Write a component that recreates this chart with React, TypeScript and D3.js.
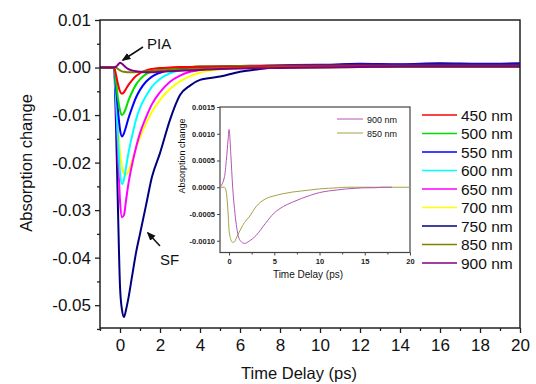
import React, { useEffect, useRef } from "react";
import * as d3 from "d3";

// main panel: time grid (ps) shared by all wavelengths
const mainTime = [-1, -0.6, -0.4, -0.3, -0.2, -0.1, 0, 0.1, 0.2, 0.3, 0.4, 0.6, 0.8, 1.0, 1.3, 1.6, 2.0, 2.5, 3.0, 3.5, 4.0, 5.0, 6.0, 7.0, 8.0, 10, 12, 14, 16, 18, 20];

const nm450 = [0, 0, 0, 0, -0.0015, -0.0035, -0.005, -0.0055, -0.0052, -0.0045, -0.0038, -0.0027, -0.0018, -0.0012, -0.0006, -0.0003, -0.0001, 0, 0.0001, 0.0001, 0.0002, 0.0002, 0.0002, 0.0003, 0.0003, 0.0003, 0.0003, 0.0003, 0.0003, 0.0003, 0.0003];
const nm500 = [0, 0, 0, 0, -0.003, -0.0065, -0.009, -0.01, -0.0095, -0.0085, -0.0072, -0.0052, -0.0036, -0.0025, -0.0014, -0.0008, -0.0004, -0.0001, 0, 0.0001, 0.0002, 0.0002, 0.0003, 0.0003, 0.0004, 0.0004, 0.0004, 0.0004, 0.0004, 0.0004, 0.0004];
const nm550 = [0, 0, 0, 0, -0.004, -0.009, -0.013, -0.0145, -0.0138, -0.0125, -0.011, -0.0085, -0.0063, -0.0047, -0.003, -0.0019, -0.0011, -0.0005, -0.0002, 0, 0.0001, 0.0002, 0.0003, 0.0004, 0.0005, 0.0006, 0.0006, 0.0006, 0.0006, 0.0006, 0.0006];
const nm600 = [0, 0, 0, 0, -0.006, -0.015, -0.022, -0.0245, -0.0235, -0.021, -0.0185, -0.0145, -0.011, -0.0085, -0.006, -0.004, -0.0024, -0.0012, -0.0006, -0.0003, -0.0001, 0.0001, 0.0002, 0.0003, 0.0004, 0.0005, 0.0005, 0.0005, 0.0005, 0.0005, 0.0005];
const nm650 = [0, 0, 0, 0, -0.007, -0.018, -0.028, -0.0315, -0.031, -0.028, -0.025, -0.0205, -0.0168, -0.0138, -0.0105, -0.0077, -0.0052, -0.003, -0.0017, -0.0009, -0.0005, -0.0002, 0, 0.0002, 0.0003, 0.0005, 0.0006, 0.0006, 0.0006, 0.0006, 0.0006];
const nm700 = [0, 0, 0, 0, -0.005, -0.012, -0.018, -0.021, -0.0223, -0.0225, -0.022, -0.0197, -0.0170, -0.0147, -0.0118, -0.0093, -0.0068, -0.0045, -0.0029, -0.0018, -0.0011, -0.0004, -0.0001, 0.0001, 0.0002, 0.0003, 0.0004, 0.0004, 0.0004, 0.0004, 0.0004];
const nm750 = [0, 0, 0, 0, -0.012, -0.03, -0.046, -0.051, -0.0525, -0.051, -0.049, -0.044, -0.039, -0.035, -0.029, -0.023, -0.018, -0.011, -0.0058, -0.0038, -0.0026, -0.0019, -0.0009, -0.0003, 0.0001, 0.0004, 0.0008, 0.0007, 0.0009, 0.0008, 0.0009];
const nm850 = [0, 0, 0, 0, 0, -0.0003, -0.0006, -0.0008, -0.0009, -0.00095, -0.001, -0.001, -0.00095, -0.0009, -0.0008, -0.0007, -0.0006, -0.0005, -0.0004, -0.00035, -0.0003, -0.0002, -0.0001, -0.00005, 0, 0, 0.0001, 0.0001, 0.0001, 0.0001, 0.0001];
const nm900 = [0, 0, 0, 0, 0.0002, 0.0006, 0.001, 0.0008, 0.0004, 0, -0.0003, -0.0006, -0.0008, -0.0009, -0.001, -0.001, -0.0009, -0.0008, -0.0007, -0.0006, -0.0005, -0.0003, -0.0002, -0.00015, -0.0001, 0, 0.0001, 0.0002, 0.0002, 0.0002, 0.0002];

const labels = ["450 nm", "500 nm", "550 nm", "600 nm", "650 nm", "700 nm", "750 nm", "850 nm", "900 nm"];
const colors = ["#ff0000", "#00e000", "#0000ff", "#00ffff", "#ff00ff", "#ffff00", "#000080", "#808000", "#800080"];
const mainSeries = [nm450, nm500, nm550, nm600, nm650, nm700, nm750, nm850, nm900];
// draw order: longer-lived curves behind
const drawOrder = [6, 5, 4, 3, 2, 1, 0, 7, 8];

const mainXTicks = [0, 2, 4, 6, 8, 10, 12, 14, 16, 18, 20];
const mainYTicks = [0.01, 0, -0.01, -0.02, -0.03, -0.04, -0.05];

// inset: 900 nm and 850 nm
const insetTime = [-1, -0.5, -0.3, -0.1, 0, 0.2, 0.4, 0.6, 0.8, 1.0, 1.3, 1.7, 2.2, 3, 4, 5, 6, 7, 8, 9, 10, 11, 12, 13, 14, 15, 16, 17, 18, 19, 20];
const inset900 = [0, 0.0002, 0.0005, 0.0009, 0.00108, 0.0006, 0, -0.0004, -0.0007, -0.0009, -0.00101, -0.00105, -0.00101, -0.0009, -0.00068, -0.00048, -0.00036, -0.00028, -0.00021, -0.00015, -0.0001, -0.00007, -0.00005, -0.00003, -0.00002, -0.00001, -0.00001, 0, 0];
const inset850 = [0, 0, -0.0001, -0.0005, -0.0008, -0.00098, -0.00103, -0.00102, -0.00095, -0.00088, -0.00078, -0.00066, -0.00056, -0.00036, -0.00022, -0.00016, -0.00012, -0.00009, -0.00007, -0.00005, -0.00003, -0.00002, -0.00001, 0, 0, 0, 0, 0, 0, 0, 0];
const insetLabels = ["900 nm", "850 nm"];
const insetColors = ["#b455b4", "#a3a343"];
const insetXTicks = [0, 5, 10, 15, 20];
const insetYTicks = [0.0015, 0.001, 0.0005, 0, -0.0005, -0.001];

const FONT = "Arial, 'Liberation Sans', sans-serif";

const W = 536;
const H = 384;
const m = { left: 100, top: 20, right: 520, bottom: 328 };
const ins = { left: 220, top: 107, right: 410, bottom: 252.5 };

export default function App() {
  const ref = useRef<SVGSVGElement>(null);

  useEffect(() => {
    const svg = d3.select(ref.current);
    svg.selectAll("*").remove();

    const x = d3.scaleLinear().domain([-1, 20]).range([m.left, m.right]);
    const y = d3.scaleLinear().domain([-0.0548, 0.01]).range([m.bottom, m.top]);

    const clip = svg.append("defs").append("clipPath").attr("id", "mainclip");
    clip.append("rect").attr("x", m.left).attr("y", m.top).attr("width", m.right - m.left).attr("height", m.bottom - m.top);

    const line = d3.line<[number, number]>()
      .x(d => x(d[0]))
      .y(d => y(d[1]))
      .curve(d3.curveMonotoneX);

    const plot = svg.append("g").attr("clip-path", "url(#mainclip)");
    drawOrder.forEach(i => {
      plot.append("path")
        .datum(mainTime.map((t, k) => [t, mainSeries[i][k]] as [number, number]))
        .attr("d", line)
        .attr("fill", "none")
        .attr("stroke", colors[i])
        .attr("stroke-width", 2)
        .attr("stroke-linejoin", "round");
    });

    // frame
    svg.append("rect")
      .attr("x", m.left).attr("y", m.top)
      .attr("width", m.right - m.left).attr("height", m.bottom - m.top)
      .attr("fill", "none").attr("stroke", "#222").attr("stroke-width", 1.5);

    const styleAxis = (g: any, size: number) => {
      g.select(".domain").remove();
      g.selectAll("line").attr("stroke", "#222").attr("stroke-width", 1.3);
      g.selectAll("text").attr("font-family", FONT).attr("font-size", size).attr("fill", "#111");
    };

    const xMinor = d3.range(-1, 20, 2);
    svg.append("g").attr("transform", `translate(0,${m.bottom})`)
      .call(d3.axisBottom(x).tickValues(xMinor).tickSize(3).tickFormat(() => ""))
      .call((g: any) => styleAxis(g, 0));
    svg.append("g").attr("transform", `translate(0,${m.bottom})`)
      .call(d3.axisBottom(x).tickValues(mainXTicks).tickSize(5).tickPadding(6).tickFormat(d3.format("d")))
      .call((g: any) => styleAxis(g, 17));

    const yMinor = d3.range(-0.055, 0.01, 0.01).map(v => +v.toFixed(3));
    svg.append("g").attr("transform", `translate(${m.left},0)`)
      .call(d3.axisLeft(y).tickValues(yMinor).tickSize(3).tickFormat(() => ""))
      .call((g: any) => styleAxis(g, 0));
    svg.append("g").attr("transform", `translate(${m.left},0)`)
      .call(d3.axisLeft(y).tickValues(mainYTicks).tickSize(5).tickPadding(4).tickFormat((v: any) => (+v).toFixed(2)))
      .call((g: any) => styleAxis(g, 17));

    svg.append("text")
      .attr("transform", `translate(32,163) rotate(-90)`)
      .attr("text-anchor", "middle")
      .attr("font-family", FONT).attr("font-size", 16.5).attr("fill", "#111")
      .text("Absorption change");
    svg.append("text")
      .attr("x", 299).attr("y", 379)
      .attr("text-anchor", "middle")
      .attr("font-family", FONT).attr("font-size", 16.5).attr("fill", "#111")
      .text("Time Delay (ps)");

    // annotations
    const ann = svg.append("g");
    ann.append("defs").append("marker")
      .attr("id", "arrowhead").attr("viewBox", "0 0 10 10")
      .attr("refX", 8).attr("refY", 5)
      .attr("markerWidth", 6).attr("markerHeight", 6)
      .attr("orient", "auto")
      .append("path").attr("d", "M0,1 L10,5 L0,9 Z").attr("fill", "#111");
    ann.append("line").attr("x1", 143).attr("y1", 47).attr("x2", 123).attr("y2", 60)
      .attr("stroke", "#111").attr("stroke-width", 1.5).attr("marker-end", "url(#arrowhead)");
    ann.append("text").attr("x", 147).attr("y", 49)
      .attr("font-family", FONT).attr("font-size", 15).attr("fill", "#111").text("PIA");
    ann.append("line").attr("x1", 160).attr("y1", 246).attr("x2", 148).attr("y2", 233)
      .attr("stroke", "#111").attr("stroke-width", 1.5).attr("marker-end", "url(#arrowhead)");
    ann.append("text").attr("x", 160).attr("y", 265)
      .attr("font-family", FONT).attr("font-size", 15).attr("fill", "#111").text("SF");

    // main legend
    const leg = svg.append("g");
    labels.forEach((lab, i) => {
      const yy = 115 + i * 18.5;
      leg.append("line").attr("x1", 422).attr("x2", 457).attr("y1", yy).attr("y2", yy)
        .attr("stroke", colors[i]).attr("stroke-width", 1.5);
      leg.append("text").attr("x", 461).attr("y", yy + 5.5)
        .attr("font-family", FONT).attr("font-size", 15.5).attr("fill", "#111").text(lab);
    });

    // inset
    const ix = d3.scaleLinear().domain([-1, 20]).range([ins.left, ins.right]);
    const iy = d3.scaleLinear().domain([-0.00122, 0.0015]).range([ins.bottom, ins.top]);
    svg.append("rect")
      .attr("x", ins.left).attr("y", ins.top)
      .attr("width", ins.right - ins.left).attr("height", ins.bottom - ins.top)
      .attr("fill", "#fff").attr("stroke", "#444").attr("stroke-width", 1.2);

    const iline = d3.line<[number, number]>()
      .x(d => ix(d[0]))
      .y(d => iy(d[1]))
      .curve(d3.curveMonotoneX);
    [inset850, inset900].forEach((s, k) => {
      const n = s.length;
      svg.append("path")
        .datum(insetTime.slice(0, n).map((t, j) => [t, s[j]] as [number, number]))
        .attr("d", iline)
        .attr("fill", "none")
        .attr("stroke", insetColors[1 - k])
        .attr("stroke-width", 1);
    });

    const styleInset = (g: any) => {
      g.select(".domain").remove();
      g.selectAll("line").attr("stroke", "#444").attr("stroke-width", 1);
      g.selectAll("text").attr("font-family", FONT).attr("font-size", 7.5).attr("font-weight", "bold").attr("fill", "#222");
    };
    svg.append("g").attr("transform", `translate(0,${ins.bottom})`)
      .call(d3.axisBottom(ix).tickValues([2.5, 7.5, 12.5, 17.5]).tickSize(2).tickFormat(() => ""))
      .call(styleInset);
    svg.append("g").attr("transform", `translate(0,${ins.bottom})`)
      .call(d3.axisBottom(ix).tickValues(insetXTicks).tickSize(3).tickPadding(3).tickFormat(d3.format("d")))
      .call(styleInset);
    svg.append("g").attr("transform", `translate(${ins.left},0)`)
      .call(d3.axisLeft(iy).tickValues(insetYTicks).tickSize(3).tickPadding(2).tickFormat((v: any) => (+v).toFixed(4)))
      .call(styleInset);

    svg.append("text")
      .attr("transform", `translate(185,156) rotate(-90)`)
      .attr("text-anchor", "middle")
      .attr("font-family", FONT).attr("font-size", 9).attr("fill", "#111")
      .text("Absorption change");
    svg.append("text")
      .attr("x", 308).attr("y", 278)
      .attr("text-anchor", "middle")
      .attr("font-family", FONT).attr("font-size", 10).attr("fill", "#111")
      .text("Time Delay (ps)");

    insetLabels.forEach((lab, i) => {
      const yy = 119 + i * 14;
      svg.append("line").attr("x1", 337).attr("x2", 363).attr("y1", yy).attr("y2", yy)
        .attr("stroke", insetColors[i]).attr("stroke-width", 1);
      svg.append("text").attr("x", 367).attr("y", yy + 3.5)
        .attr("font-family", FONT).attr("font-size", 9).attr("fill", "#111").text(lab);
    });
  }, []);

  return (
    <svg ref={ref} width={W} height={H}
      style={{ position: "absolute", left: 0, top: 0, background: "#fff" }} />
  );
}
